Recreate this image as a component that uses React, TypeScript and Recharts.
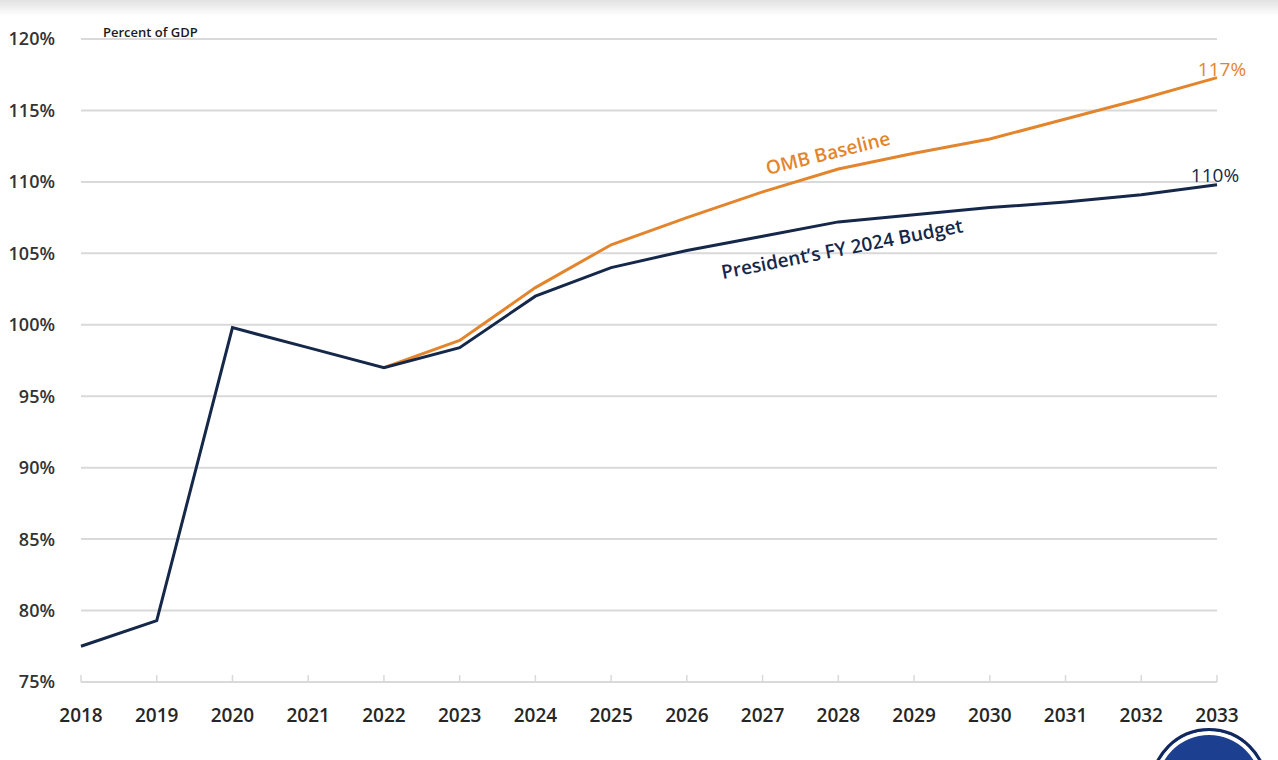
import { CartesianGrid, LabelList, Line, LineChart, ReferenceDot, XAxis, YAxis } from 'recharts';

const years = ['2018', '2019', '2020', '2021', '2022', '2023', '2024', '2025', '2026', '2027', '2028', '2029', '2030', '2031', '2032', '2033'];
const presidentsBudget = [77.5, 79.3, 99.8, 98.4, 97.0, 98.4, 102.0, 104.0, 105.2, 106.2, 107.2, 107.7, 108.2, 108.6, 109.1, 109.8];
const ombBaseline = [null, null, null, null, 97.0, 98.9, 102.6, 105.6, 107.5, 109.3, 110.9, 112.0, 113.0, 114.4, 115.8, 117.3];
const yTicks = [75, 80, 85, 90, 95, 100, 105, 110, 115, 120];

const NAVY = '#15284a';
const ORANGE = '#e3852c';
const FONT = '"Open Sans", sans-serif';

const data = years.map((year, i) => ({
  year,
  budget: presidentsBudget[i],
  baseline: ombBaseline[i],
}));

// texte incliné posé le long d'une courbe
function slanted(text: string, color: string, angle: number, dx: number) {
  return (props: any) => {
    const { viewBox } = props;
    const x = viewBox.x + (viewBox.width || 0) / 2 + dx;
    const y = viewBox.y + (viewBox.height || 0) / 2;
    return (
      <text
        x={x}
        y={y}
        fill={color}
        fontFamily={FONT}
        fontWeight={600}
        fontSize={19}
        textAnchor="middle"
        dominantBaseline="middle"
        transform={`rotate(${angle} ${x} ${y})`}
      >
        {text}
      </text>
    );
  };
}

function endLabel(color: string, dx: number, dy: number) {
  return (props: any) => {
    const { x, y, index } = props;
    if (index !== years.length - 1) return null;
    return (
      <text x={x + dx} y={y + dy} fill={color} fontFamily={FONT} fontSize={19} textAnchor="middle">
        {Math.round(Number(props.value))}%
      </text>
    );
  };
}

export default function App() {
  return (
    <div style={{ position: 'absolute', left: 0, top: 0, width: 1278, height: 760, background: '#fff', overflow: 'hidden' }}>
      <div
        style={{
          position: 'absolute',
          left: 0,
          top: 0,
          width: 1278,
          height: 16,
          background: 'linear-gradient(#e2e2e2, #ffffff)',
        }}
      />
      <LineChart width={1278} height={760} data={data} margin={{ top: 39, right: 61, bottom: 38, left: 0 }}>
        <CartesianGrid vertical={false} stroke="#d9d9d9" strokeWidth={2} />
        <XAxis
          dataKey="year"
          axisLine={{ stroke: '#d9d9d9', strokeWidth: 2 }}
          tickLine={{ stroke: '#d9d9d9', strokeWidth: 1.5 }}
          tickSize={-7}
          tickMargin={34}
          height={40}
          tick={{ fill: '#262626', fontFamily: FONT, fontWeight: 600, fontSize: 19 }}
          interval={0}
        />
        <YAxis
          domain={[75, 120]}
          ticks={yTicks}
          width={81}
          axisLine={false}
          tickLine={false}
          tickMargin={20}
          tickFormatter={(v) => `${v}%`}
          tick={{ fill: '#333333', fontFamily: FONT, fontWeight: 600, fontSize: 18 }}
        />
        <Line
          dataKey="baseline"
          stroke={ORANGE}
          strokeWidth={3}
          dot={false}
          isAnimationActive={false}
          connectNulls={false}
        >
          <LabelList dataKey="baseline" content={endLabel(ORANGE, 5, -2)} />
        </Line>
        <Line dataKey="budget" stroke={NAVY} strokeWidth={3} dot={false} isAnimationActive={false}>
          <LabelList dataKey="budget" content={endLabel(NAVY, -2, -3)} />
        </Line>
        <ReferenceDot x="2028" y={111.9} r={0} stroke="none" fill="none" label={slanted('OMB Baseline', ORANGE, -14, -10)} />
        <ReferenceDot x="2028" y={105.2} r={0} stroke="none" fill="none" label={slanted('President\u2019s FY 2024 Budget', NAVY, -11, 4)} />
        <text x={103} y={37} fill="#1a1a1a" fontFamily={FONT} fontWeight={600} fontSize={13}>
          Percent of GDP
        </text>
      </LineChart>
      <div
        style={{
          position: 'absolute',
          left: 1150,
          top: 728,
          width: 112,
          height: 112,
          borderRadius: '50%',
          background: '#1d3f8f',
          border: '3px solid #10285e',
          boxShadow: 'inset 0 0 0 4px #ffffff',
        }}
      />
    </div>
  );
}
